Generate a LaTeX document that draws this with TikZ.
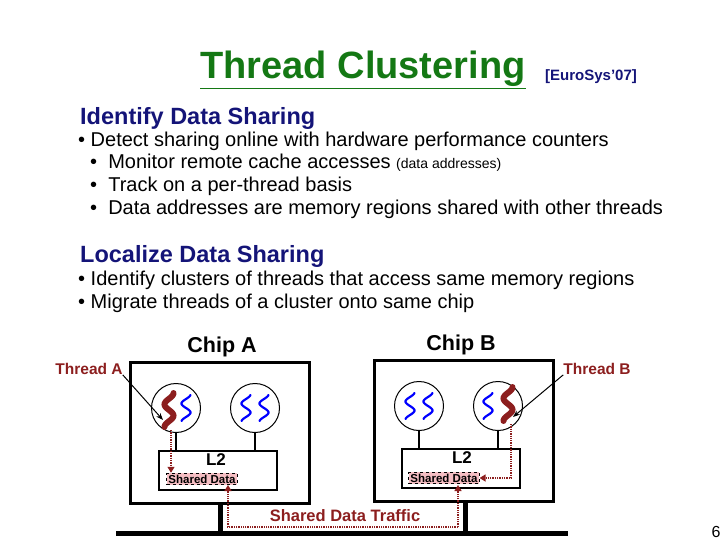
\documentclass[tikz,border=0pt]{standalone}
\usepackage{fontspec}
\setmainfont{Liberation Sans}
\usetikzlibrary{positioning,calc,arrows.meta}
\definecolor{navy}{RGB}{20,20,120}
\definecolor{ttlgreen}{RGB}{20,120,20}
\definecolor{thred}{RGB}{140,30,30}
\definecolor{shpink}{RGB}{245,190,195}
\tikzset{
  body/.style={anchor=west, inner sep=0pt, font=\fontsize{20}{24}\selectfont},
  head/.style={anchor=west, inner sep=0pt, text=navy, font=\fontsize{23.5}{26}\selectfont\bfseries},
  chip/.style={draw, line width=2.5pt, minimum width=#1, minimum height=141pt, inner sep=0pt},
  core/.style={circle, draw, line width=1pt, minimum size=49pt, inner sep=0pt},
  cache/.style={draw, line width=2pt, minimum width=118pt, minimum height=39pt, inner sep=0pt},
  shared/.style={draw, dashed, fill=shpink, line width=1pt, inner sep=1.5pt, font=\fontsize{11.5}{12}\selectfont\bfseries},
  clabel/.style={font=\fontsize{21.5}{24}\selectfont\bfseries, inner sep=0pt},
  tlabel/.style={text=thred, font=\fontsize{15.5}{18}\selectfont\bfseries, inner sep=0pt},
  traffic/.style={thred, densely dotted, line width=1.3pt, -{Triangle[length=6pt,width=7pt]}},
  pointer/.style={line width=1pt, -{Stealth[length=7pt]}},
  wiggle/.style={line width=#1, line cap=round},
}
\newcommand{\squig}[3]{% x, y, colour
  \draw[wiggle=2.2pt, #3] plot[domain=-13:13, samples=30] ({#1+4.5*sin(\x*20)}, {#2+\x});}
\newcommand{\thrd}[2]{% fat red thread
  \draw[wiggle=6pt, thred] plot[domain=-17:17, samples=40] ({#1+4.5*sin(\x*16)}, {#2+\x});}
\begin{document}
\begin{tikzpicture}[x=1pt, y=-1pt]
\useasboundingbox (0,0) rectangle (728,546);
% title
\node[inner sep=0pt, text=ttlgreen, font=\fontsize{38}{42}\selectfont\bfseries] (title) at (363,70) {\underline{Thread Clustering}};
\node[inner sep=0pt, anchor=west, text=navy, font=\fontsize{15}{17}\selectfont\bfseries] (venue) at (545,77) {[EuroSys'07]};
% text
\node[head] (h1) at (80,118) {Identify Data Sharing};
\node[body] (b1) at (78,141) {\textbullet\ Detect sharing online with hardware performance counters};
\node[body] (b2) at (90,163) {\textbullet\ \ Monitor remote cache accesses {\fontsize{14}{16}\selectfont (data addresses)}};
\node[body] (b3) at (90,186) {\textbullet\ \ Track on a per-thread basis};
\node[body] (b4) at (90,209) {\textbullet\ \ Data addresses are memory regions shared with other threads};
\node[head] (h2) at (80,256) {Localize Data Sharing};
\node[body] (b5) at (78,280) {\textbullet\ Identify clusters of threads that access same memory regions};
\node[body] (b6) at (78,303) {\textbullet\ Migrate threads of a cluster onto same chip};
% chips
\node[chip=179pt] (chipA) at (220,433) {};
\node[chip=179pt] (chipB) at (464,431) {};
\node[clabel] (labA) at (222,347) {Chip A};
\node[clabel] (labB) at (461,345) {Chip B};
\node[core] (cA1) at (176,408) {};
\node[core] (cA2) at (255,408) {};
\node[core] (cB1) at (419,406) {};
\node[core] (cB2) at (498,406) {};
\node[cache] (l2A) at (218,470) {};
\node[cache] (l2B) at (461,468) {};
\node[font=\fontsize{17}{19}\selectfont\bfseries, inner sep=0pt] (l2Atxt) at (216,460) {L2};
\node[font=\fontsize{17}{19}\selectfont\bfseries, inner sep=0pt] (l2Btxt) at (462,458) {L2};
\node[shared] (shA) at (202,479) {Shared Data};
\node[shared] (shB) at (444,478) {Shared Data};
\draw[line width=2pt] (cA1) -- (cA1 |- l2A.north);
\draw[line width=2pt] (cA2) -- (cA2 |- l2A.north);
\draw[line width=2pt] (cB1) -- (cB1 |- l2B.north);
\draw[line width=2pt] (cB2) -- (cB2 |- l2B.north);
% threads
\thrd{169}{410}
\squig{186}{408}{blue}
\squig{246}{408}{blue}
\squig{264}{408}{blue}
\squig{410}{406}{blue}
\squig{428}{406}{blue}
\squig{488}{406}{blue}
\thrd{508}{404}
% bus
\coordinate (busL) at (116,533);
\coordinate (busR) at (568,533);
\draw[line width=5pt] (busL) -- (busR);
\draw[line width=5pt] (chipA.south -| 220,0) -- (220,533);
\draw[line width=5pt] (chipB.south -| 465,0) -- (465,533);
% traffic
\coordinate (thA) at (171,430);
\coordinate (thB) at (511,424);
\draw[traffic] (thA) -- (thA |- shA.north);
\draw[traffic] (thB) |- (shB.east);
\draw[traffic] (458,527) -- (228,527) -- (228,485);
\draw[traffic] (458,527) -- (458,485);
\node[tlabel, font=\fontsize{16.5}{18}\selectfont\bfseries] (trf) at (345,516) {Shared Data Traffic};
% thread labels
\node[tlabel] (tA) at (89,369) {Thread A};
\node[tlabel] (tB) at (597,369) {Thread B};
\draw[pointer] (tA.south east) -- (163,420);
\draw[pointer] (tB.south west) -- (513,417);
\node[inner sep=0pt, font=\fontsize{16}{18}\selectfont] (pg) at (716,532) {6};
\end{tikzpicture}
\end{document}
